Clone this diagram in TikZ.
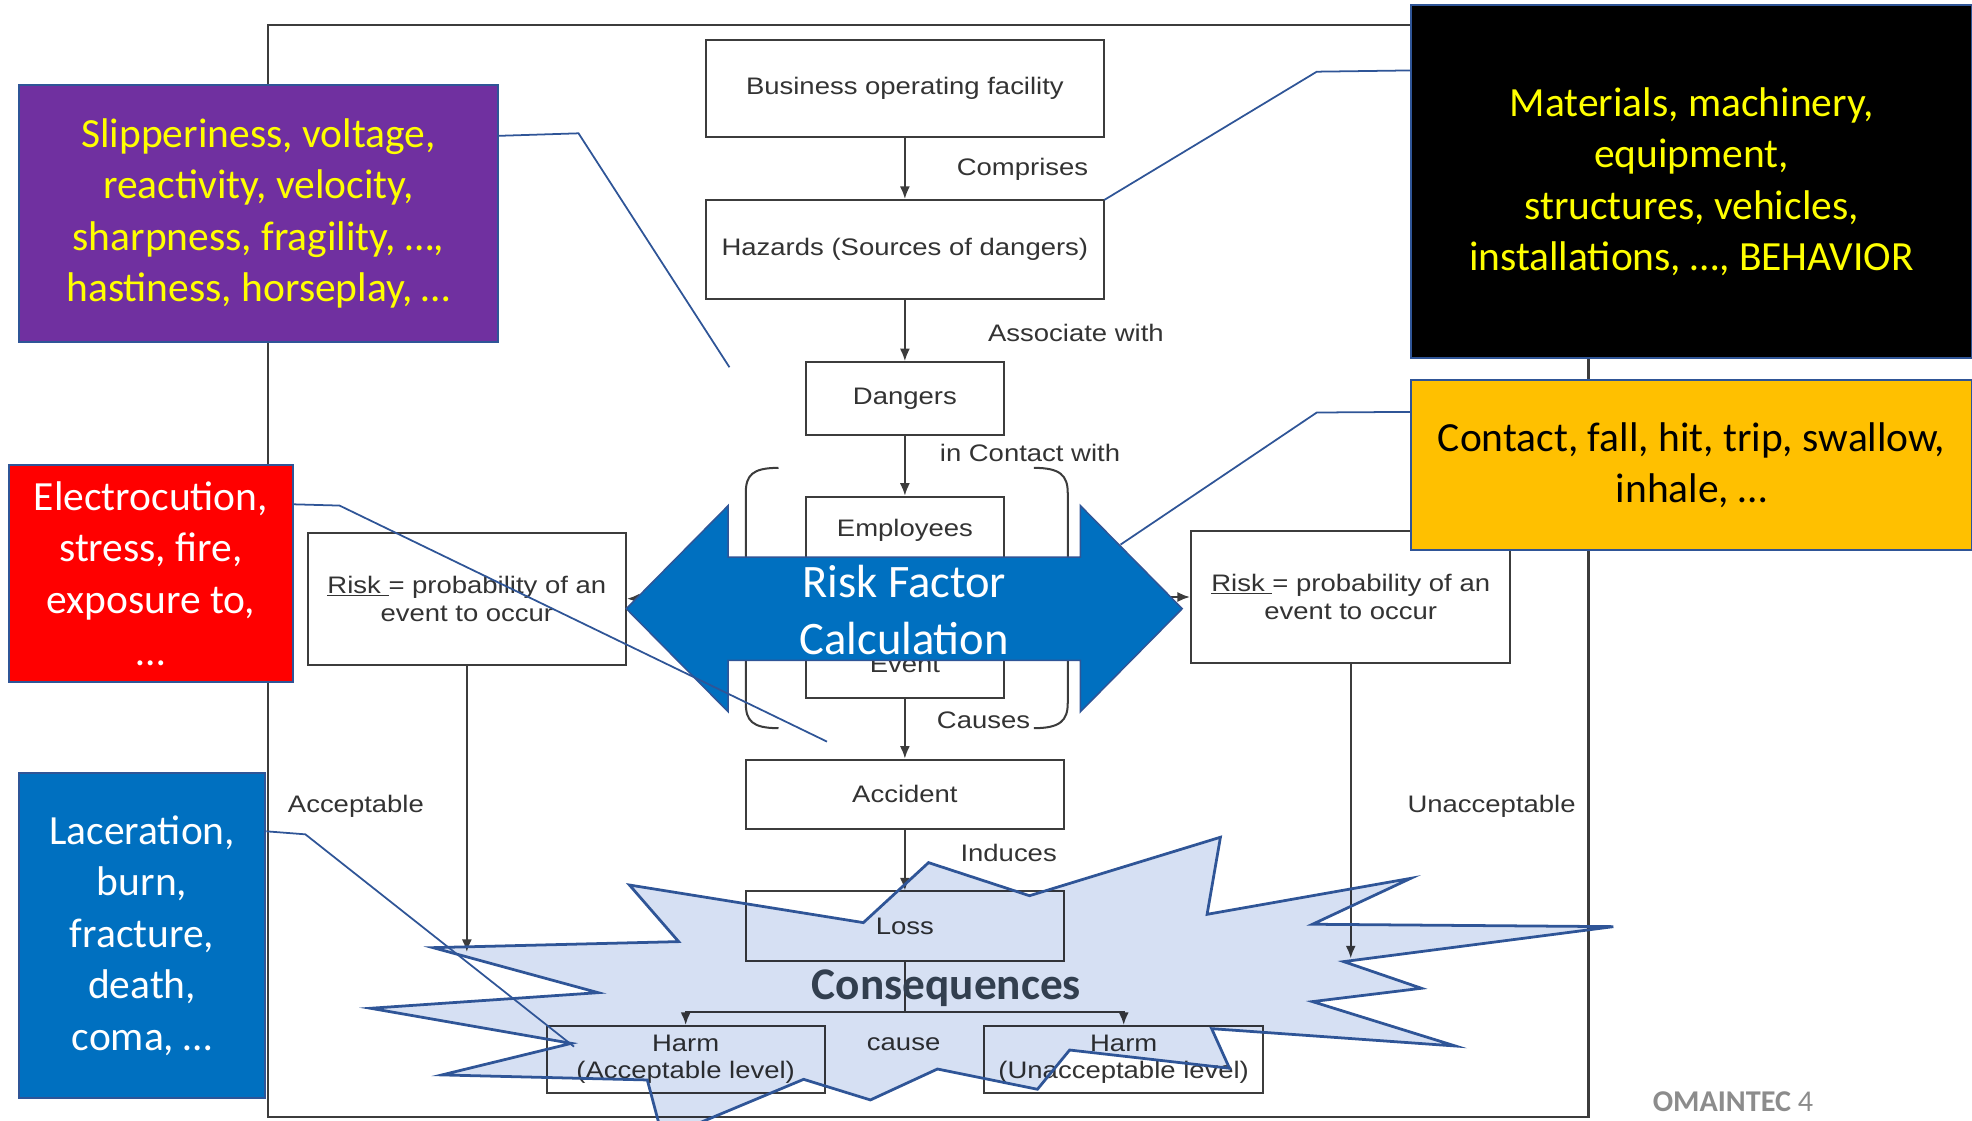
\documentclass[tikz,border=0pt]{standalone}
\usepackage{fontspec}
\setmainfont{Carlito}
\newfontfamily\diagfont[FakeStretch=1.15]{Liberation Sans}
\usetikzlibrary{arrows.meta}
\definecolor{dgray}{HTML}{3C3C3C}
\definecolor{dtext}{HTML}{333333}
\definecolor{cblue}{HTML}{2F5597}
\definecolor{purp}{HTML}{7030A0}
\definecolor{yel}{HTML}{FFFF00}
\definecolor{orng}{HTML}{FFC000}
\definecolor{bblue}{HTML}{0070C0}
\definecolor{expfill}{HTML}{D6E0F3}
\definecolor{conseq}{HTML}{323F4F}
\definecolor{footgray}{HTML}{8C8C8C}
\newcommand\dgmfont{\diagfont\fontsize{19}{23}\selectfont}
\tikzset{
  dline/.style={draw=dgray, line width=1.6pt},
  dbox/.style={dline, fill=white, inner sep=0pt, font=\dgmfont, text=dtext, align=center},
  dlab/.style={font=\dgmfont, text=dtext, inner sep=0pt},
  arr/.style={dline, -{Latex[length=10pt,width=8pt]}},
  callout/.style={draw=cblue, line width=1.6pt, inner sep=0pt, align=center, font=\fontsize{33}{41}\selectfont},
  conn/.style={draw=cblue, line width=1.4pt},
  bigarrow/.style={fill=bblue, draw=cblue, line width=1.2pt},
  explfill/.style={fill=expfill},
  expldraw/.style={draw=cblue, line width=2.2pt, line join=miter}
}
\begin{document}
\begin{tikzpicture}[x=1pt,y=-1pt]
\useasboundingbox (0,0) rectangle (1568,891);
% outer frame
\draw[dline, line width=1.8pt] (213,20) rectangle (1263,888);

% flow boxes
\node[dbox, minimum width=317pt, minimum height=77pt] (bof) at (719.5,70.5) {Business operating facility};
\node[dbox, minimum width=317pt, minimum height=79pt] (haz) at (719.5,198.5) {Hazards (Sources of dangers)};
\node[dbox, minimum width=158pt, minimum height=58pt] (dan) at (719.5,317) {Dangers};
\node[dbox, minimum width=158pt, minimum height=54pt] (emp) at (719.5,422) {Employees};
\node[dbox, minimum width=158pt, minimum height=54pt] (evt) at (719.5,528) {Event};
\node[dbox, minimum width=253pt, minimum height=55pt] (acc) at (719.5,631.5) {Accident};
\node[dbox, minimum width=253pt, minimum height=55pt] (loss) at (719.5,736.3) {Loss};
\node[dbox, minimum width=221pt, minimum height=53pt, font=\diagfont\fontsize{19}{22}\selectfont] (harmL) at (545.2,842.3) {Harm\\(Acceptable level)};
\node[dbox, minimum width=222pt, minimum height=53pt, font=\diagfont\fontsize{19}{22}\selectfont] (harmR) at (893.5,842.3) {Harm\\(Unacceptable level)};
\node[dbox, minimum width=253pt, minimum height=105pt, font=\diagfont\fontsize{19}{22.5}\selectfont] (riskL) at (371.2,476) {\underline{Risk\ }= probability of an\\event to occur};
\node[dbox, minimum width=254pt, minimum height=105pt, font=\diagfont\fontsize{19}{22.5}\selectfont] (riskR) at (1074,474.7) {\underline{Risk\ }= probability of an\\event to occur};

% brackets
\draw[dline] (619,372) .. controls (598,372) and (593,378) .. (593,392) -- (593,559) .. controls (593,573) and (598,579) .. (619,579);
\draw[dline] (822,372) .. controls (843,372) and (849,378) .. (849,392) -- (849,559) .. controls (849,573) and (843,579) .. (822,579);

% flow arrows
\draw[arr] (bof) -- (haz);
\draw[arr] (haz) -- (dan);
\draw[arr] (dan) -- (emp);
\draw[arr] (emp) -- (evt);
\draw[arr] (evt) -- (acc);
\draw[arr] (acc) -- (loss);
\coordinate (split) at (719.5,804.4);
\draw[dline] (loss) -- (split);
\draw[arr] (split) -| (harmL);
\draw[arr] (split) -| (harmR);
\coordinate (cL) at (640,476);
\coordinate (cR) at (798,474.7);
\draw[arr] (cL) -- (riskL);
\draw[arr] (cR) -- (riskR);
\coordinate (aL) at (371.2,757);
\coordinate (aR) at (1074,762);
\draw[arr] (riskL) -- (aL);
\draw[arr] (riskR) -- (aR);

% labels
\node[dlab] (lc1) at (813,135) {Comprises};
\node[dlab] (lc2) at (855.5,265) {Associate with};
\node[dlab] (lc3) at (819,360) {in Contact with};
\node[dlab] (lc4) at (782,573) {Causes};
\node[dlab] (lc5) at (802,678) {Induces};
\node[dlab] (lc6) at (283,641) {Acceptable};
\node[dlab] (lc7) at (1186,641) {Unacceptable};
\node[dlab] (lc8) at (718.5,830) {cause};

% explosion
\def\explpath{(738.3,685.9) -- (818.6,712.2) -- (970.4,665.7) -- (959.8,727.0) -- (1121.7,698.4) -- (1043.6,734.9) -- (1282.8,736.8) -- (1068.4,764.6) -- (1130.2,785.8) -- (1043.6,796.4) -- (1157.2,831.7) -- (963.4,817.9) -- (977.6,849.4) -- (850.5,834.9) -- (824.9,866.1) -- (745.4,850.0) -- (692.1,874.6) -- (639.0,858.2) -- (527,905) -- (514.7,858.7) -- (351.4,854.7) -- (454.3,829.6) -- (294.6,801.7) -- (475.6,789.3) -- (344.3,753.5) -- (539.6,748.7) -- (500.5,703.7) -- (686.5,733.6) -- cycle}
\begin{scope}[blend mode=multiply]
\path[explfill] \explpath;
\end{scope}
\path[expldraw] \explpath;
\node[text=conseq, font=\bfseries\fontsize{36}{40}\selectfont, inner sep=0pt] (cons) at (752.5,785.5) {Consequences};

% big double arrow
\path[bigarrow] (498,484) -- (579,402) -- (579,443) -- (859,443) -- (859,402) -- (940,484) -- (859,566) -- (859,525) -- (579,525) -- (579,566) -- cycle;
\node[text=white, align=center, font=\fontsize{37}{46}\selectfont, inner sep=0pt] (rfc) at (719,485) {Risk Factor\\Calculation};

% callouts
\node[callout, fill=purp, text=yel, minimum width=381pt, minimum height=204pt] (cpur) at (205.5,169.8) {Slipperiness, voltage,\\reactivity, velocity,\\sharpness, fragility, …,\\hastiness, horseplay, …};
\node[callout, fill=black, text=yel, minimum width=446pt, minimum height=281pt] (cblk) at (1345,144.5) {Materials, machinery,\\equipment,\\structures, vehicles,\\installations, …, BEHAVIOR};
\node[callout, fill=orng, text=black, minimum width=446pt, minimum height=135pt] (corg) at (1345,370) {Contact, fall, hit, trip, swallow,\\inhale, …};
\node[callout, fill=red, text=white, minimum width=226pt, minimum height=172pt] (cred) at (120,456) {Electrocution,\\stress, fire,\\exposure to,\\…};
\node[callout, fill=bblue, text=white, minimum width=196pt, minimum height=258pt] (cblu) at (113,744) {Laceration,\\burn,\\fracture,\\death,\\coma, …};

% connectors
\coordinate (pPur) at (580,292);
\coordinate (pBlk) at (878,159);
\coordinate (pOrg) at (891,433);
\coordinate (pRed) at (657.6,589.7);
\coordinate (pBlu) at (456.4,832.2);
\draw[conn] (cpur.east |- 0,108) -- (460,106) -- (pPur);
\draw[conn] (cblk.west |- 0,56) -- (1047,57) -- (pBlk);
\draw[conn] (corg.west |- 0,327.5) -- (1047,328) -- (pOrg);
\draw[conn] (cred.east |- 0,401) -- (270,402) -- (pRed);
\draw[conn] (cblu.east |- 0,661) -- (242.8,663.4) -- (pBlu);

% footer
\node[anchor=base west, text=footgray, inner sep=0pt, font=\fontsize{24}{24}\selectfont] (foot) at (1314,884) {\textbf{OMAINTEC} 4};
\end{tikzpicture}
\end{document}
